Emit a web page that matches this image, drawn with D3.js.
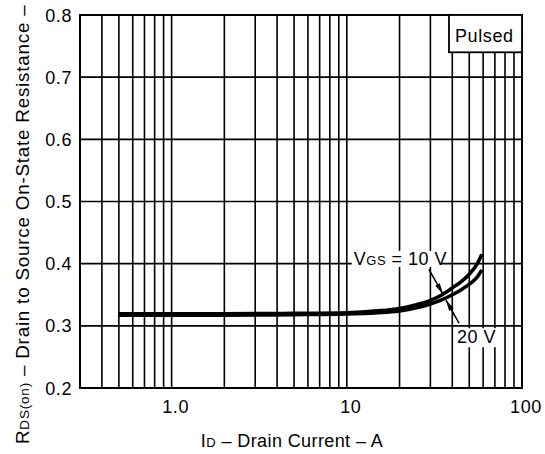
<!DOCTYPE html>
<html><head><meta charset="utf-8">
<script src="https://cdn.jsdelivr.net/npm/d3@7"></script>
<style>
body{margin:0;background:#fff}
text{font-family:"Liberation Sans",Arial,Helvetica,sans-serif;fill:#000}
</style>
</head><body>
<svg id="chart" width="545" height="454"></svg>
<script>
// ---- data ----
const drainCurrent = [0.5, 1, 2, 5, 10, 15, 20, 25, 30, 35, 40, 45, 50, 55, 59];
const rds10V = [0.3195, 0.3195, 0.3195, 0.320, 0.321, 0.324, 0.328, 0.334, 0.341, 0.350, 0.361, 0.371, 0.383, 0.398, 0.415];
const rds20V = [0.317, 0.317, 0.317, 0.318, 0.319, 0.321, 0.324, 0.329, 0.335, 0.342, 0.350, 0.358, 0.367, 0.377, 0.390];
const xTickValues = [1, 10, 100];
const xTickLabels = ["1.0", "10", "100"];
const yTickValues = [0.2, 0.3, 0.4, 0.5, 0.6, 0.7, 0.8];
const yTickLabels = ["0.2", "0.3", "0.4", "0.5", "0.6", "0.7", "0.8"];

const svg = d3.select("#chart");
const x = d3.scaleLog().domain([0.3, 100]).range([80, 522]);
const y = d3.scaleLinear().domain([0.2, 0.8]).range([388, 15]);

// grid
const g = svg.append("g");
g.selectAll("line.vx").data(x.ticks()).join("line")
  .attr("x1", d => x(d)).attr("x2", d => x(d))
  .attr("y1", y(0.2)).attr("y2", y(0.8))
  .attr("stroke", "#000").attr("stroke-width", 1.6);
g.selectAll("line.hy").data(yTickValues).join("line")
  .attr("x1", x(0.3)).attr("x2", x(100))
  .attr("y1", d => y(d)).attr("y2", d => y(d))
  .attr("stroke", "#000").attr("stroke-width", 1.6);

// frame
svg.append("rect").attr("x", x(0.3)).attr("y", y(0.8))
  .attr("width", x(100) - x(0.3)).attr("height", y(0.2) - y(0.8))
  .attr("fill", "none").attr("stroke", "#000").attr("stroke-width", 2);

// axis labels
const fs = 18;
svg.selectAll("text.yt").data(yTickValues).join("text")
  .attr("x", 72).attr("y", d => y(d) + 6.5)
  .attr("text-anchor", "end").attr("font-size", fs).attr("letter-spacing", 0.6)
  .text((d, i) => yTickLabels[i]);
svg.selectAll("text.xt").data(xTickValues).join("text")
  .attr("x", d => x(d) + 4).attr("y", 413)
  .attr("text-anchor", "middle").attr("font-size", fs).attr("letter-spacing", 0.6)
  .text((d, i) => xTickLabels[i]);

// x title
const xt = svg.append("text").attr("x", 292).attr("y", 447).attr("text-anchor", "middle")
  .attr("font-size", fs).attr("letter-spacing", 0.4);
xt.append("tspan").text("I");
xt.append("tspan").attr("font-size", 13).text("D");
xt.append("tspan").text(" – Drain Current – A");

// y title
const yt = svg.append("text").attr("transform", "translate(29,444) rotate(-90)")
  .attr("text-anchor", "start").attr("font-size", 18.8).attr("letter-spacing", 0.8);
yt.append("tspan").text("R");
yt.append("tspan").attr("font-size", 13.5).text("DS(on)");
yt.append("tspan").text(" – Drain to Source On-State Resistance –");

// curves
const line = d3.line().x((d, i) => x(drainCurrent[i])).y(d => y(d)).curve(d3.curveMonotoneX);
[rds10V, rds20V].forEach(s => {
  svg.append("path").datum(s).attr("d", line)
    .attr("fill", "none").attr("stroke", "#000").attr("stroke-width", 3.6)
    .attr("stroke-linecap", "butt");
});

// Pulsed box
svg.append("rect").attr("x", x(38.3)).attr("y", y(0.8))
  .attr("width", x(100) - x(38.3)).attr("height", y(0.74) - y(0.8))
  .attr("fill", "#fff").attr("stroke", "#000").attr("stroke-width", 1.8);
svg.append("text").attr("x", x(38.3) + 6).attr("y", y(0.74) - 10)
  .attr("font-size", fs).attr("letter-spacing", 0.6).text("Pulsed");

// annotations
const ann = [
  {label: "10", from: [29.4, 0.391], to: [35.4, 0.351]},
  {label: "20", from: [43.7, 0.3045], to: [36.8, 0.3415]}
];
ann.forEach(a => {
  const x1 = x(a.from[0]), y1 = y(a.from[1]), x2 = x(a.to[0]), y2 = y(a.to[1]);
  svg.append("line").attr("x1", x1).attr("y1", y1).attr("x2", x2).attr("y2", y2)
    .attr("stroke", "#000").attr("stroke-width", 1.5);
  const ang = Math.atan2(y2 - y1, x2 - x1);
  const L = 11, W = 2.6;
  const bx = x2 - L * Math.cos(ang), by = y2 - L * Math.sin(ang);
  const px = -Math.sin(ang) * W, py = Math.cos(ang) * W;
  svg.append("path").attr("d", `M${x2},${y2}L${bx + px},${by + py}L${bx - px},${by - py}Z`)
    .attr("fill", "#000");
});

// VGS = 10 V label with white background
const l1x = x(10.96), l1y = y(0.398);
svg.append("rect").attr("x", l1x - 2).attr("y", l1y - 14).attr("width", 90).attr("height", 16).attr("fill", "#fff");
const t1 = svg.append("text").attr("x", l1x).attr("y", l1y).attr("font-size", fs).attr("letter-spacing", 0.5);
t1.append("tspan").text("V");
t1.append("tspan").attr("font-size", 13).text("GS");
t1.append("tspan").text(" = 10 V");

const l2x = x(42.5), l2y = y(0.272);
svg.append("rect").attr("x", l2x - 2).attr("y", l2y - 15).attr("width", 44).attr("height", 19).attr("fill", "#fff");
svg.append("text").attr("x", l2x).attr("y", l2y).attr("font-size", fs).attr("letter-spacing", 0.5).text("20 V");
</script>
</body></html>
